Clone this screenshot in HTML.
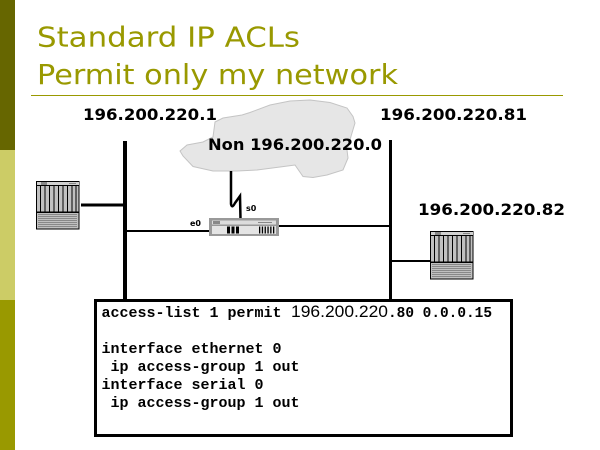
<!DOCTYPE html>
<html><head><meta charset="utf-8"><style>
html,body{margin:0;padding:0;background:#fff;}
svg{display:block;}
</style></head><body>
<svg width="600" height="450" viewBox="0 0 600 450" xmlns="http://www.w3.org/2000/svg">
<rect x="0" y="0" width="600" height="450" fill="#fff"/>
<!-- left bar -->
<rect x="0" y="0" width="15" height="150" fill="#666600"/>
<rect x="0" y="150" width="15" height="150" fill="#cccc66"/>
<rect x="0" y="300" width="15" height="150" fill="#999900"/>
<!-- title -->
<text x="37" y="46.5" font-family="DejaVu Sans, Liberation Sans, sans-serif" font-size="27.5" fill="#999900" textLength="263" lengthAdjust="spacingAndGlyphs">Standard IP ACLs</text>
<text x="37" y="84" font-family="DejaVu Sans, Liberation Sans, sans-serif" font-size="27.5" fill="#999900" textLength="361" lengthAdjust="spacingAndGlyphs">Permit only my network</text>
<line x1="31" y1="95.5" x2="563" y2="95.5" stroke="#999900" stroke-width="1"/>
<!-- cloud -->
<path d="M180,151 L187,145 L203,142 L213,137 L215,122 L223,118 L242,115 L250,112.5 L270,105 L290,101 L310,100 L330,102.5 L347,108 L353,116.5 L355,123 L352,133 L347,150 L348,158 L343,170 L327,175 L313,177.5 L303,176.5 L295,165 L280,167 L257,170 L237,171 L213,171 L193,166.5 L183,156 Z" fill="#e6e6e6" stroke="#c4c4c4" stroke-width="1"/>
<!-- labels -->
<text x="83" y="120" font-family="DejaVu Sans, Liberation Sans, sans-serif" font-weight="bold" font-size="16" fill="#000" textLength="134" lengthAdjust="spacingAndGlyphs">196.200.220.1</text>
<text x="380" y="120" font-family="DejaVu Sans, Liberation Sans, sans-serif" font-weight="bold" font-size="16" fill="#000" textLength="147" lengthAdjust="spacingAndGlyphs">196.200.220.81</text>
<text x="208" y="150" font-family="DejaVu Sans, Liberation Sans, sans-serif" font-weight="bold" font-size="16" fill="#000" textLength="174" lengthAdjust="spacingAndGlyphs">Non 196.200.220.0</text>
<text x="418" y="215" font-family="DejaVu Sans, Liberation Sans, sans-serif" font-weight="bold" font-size="16" fill="#000" textLength="147" lengthAdjust="spacingAndGlyphs">196.200.220.82</text>
<!-- vertical buses -->
<rect x="123" y="141" width="4" height="159" fill="#000"/>
<rect x="389" y="140" width="3" height="160" fill="#000"/>
<!-- connections -->
<rect x="81" y="203.5" width="43" height="3" fill="#000"/>
<rect x="125" y="230" width="84" height="2" fill="#000"/>
<rect x="279" y="225" width="111" height="2" fill="#000"/>
<rect x="390" y="260" width="45" height="2" fill="#000"/>
<!-- serial link -->
<path d="M231,171 L231,204 Q232,209 235,203 L240,196 L240.5,219" fill="none" stroke="#000" stroke-width="2.5"/>
<text x="246" y="211" font-family="DejaVu Sans, Liberation Sans, sans-serif" font-size="8" font-weight="bold" fill="#000">s0</text>
<text x="190" y="226" font-family="DejaVu Sans, Liberation Sans, sans-serif" font-size="8" font-weight="bold" fill="#000">e0</text>
<!-- router -->
<rect x="209" y="218" width="70" height="18" fill="#999"/>
<rect x="212" y="220.5" width="64" height="4" fill="#dcdcdc"/>
<rect x="213" y="221" width="7" height="3" fill="#888"/>
<rect x="258" y="222" width="14" height="1" fill="#888"/>
<rect x="212" y="226" width="64" height="8" fill="#e4e4e4"/>
<rect x="227" y="226.5" width="3" height="7" fill="#000"/>
<rect x="231.5" y="226.5" width="3" height="7" fill="#000"/>
<rect x="236" y="226.5" width="3" height="7" fill="#000"/>
<rect x="259" y="226.5" width="1.3" height="7" fill="#000"/>
<rect x="261.8" y="226.5" width="1.3" height="7" fill="#000"/>
<rect x="264.6" y="226.5" width="1.3" height="7" fill="#000"/>
<rect x="267.4" y="226.5" width="1.3" height="7" fill="#000"/>
<rect x="270.2" y="226.5" width="1.3" height="7" fill="#000"/>
<rect x="273" y="226.5" width="1.3" height="7" fill="#000"/>
<!-- left server -->
<g transform="translate(36,181)">
<rect x="0.5" y="0.5" width="42.5" height="47.5" fill="#c0c0c0" stroke="#000" stroke-width="1"/>
<rect x="1" y="1" width="42" height="3" fill="#d0d0d0"/>
<rect x="5" y="1" width="6" height="3" fill="#888"/>
<rect x="33" y="2" width="7" height="1" fill="#888"/>
<line x1="0" y1="4.5" x2="43" y2="4.5" stroke="#000" stroke-width="1"/>
<g stroke="#000" stroke-width="1">
<line x1="4.5" y1="4" x2="4.5" y2="31"/><line x1="9" y1="4" x2="9" y2="31"/><line x1="13.5" y1="4" x2="13.5" y2="31"/><line x1="18" y1="4" x2="18" y2="31"/><line x1="22.5" y1="4" x2="22.5" y2="31"/><line x1="27" y1="4" x2="27" y2="31"/><line x1="31.5" y1="4" x2="31.5" y2="31"/><line x1="36" y1="4" x2="36" y2="31"/><line x1="40" y1="4" x2="40" y2="31"/>
</g>
<rect x="0" y="30.5" width="43" height="1.5" fill="#000"/>
<g stroke="#888" stroke-width="1">
<line x1="2" y1="33.5" x2="41" y2="33.5"/><line x1="2" y1="35.5" x2="41" y2="35.5"/><line x1="2" y1="37.5" x2="41" y2="37.5"/><line x1="2" y1="39.5" x2="41" y2="39.5"/><line x1="2" y1="41.5" x2="41" y2="41.5"/><line x1="2" y1="43.5" x2="41" y2="43.5"/><line x1="2" y1="45.5" x2="41" y2="45.5"/>
</g>
</g>
<!-- right server -->
<g transform="translate(430,231)">
<rect x="0.5" y="0.5" width="42.5" height="47.5" fill="#c0c0c0" stroke="#000" stroke-width="1"/>
<rect x="1" y="1" width="42" height="3" fill="#d0d0d0"/>
<rect x="5" y="1" width="6" height="3" fill="#888"/>
<rect x="33" y="2" width="7" height="1" fill="#888"/>
<line x1="0" y1="4.5" x2="43" y2="4.5" stroke="#000" stroke-width="1"/>
<g stroke="#000" stroke-width="1">
<line x1="4.5" y1="4" x2="4.5" y2="31"/><line x1="9" y1="4" x2="9" y2="31"/><line x1="13.5" y1="4" x2="13.5" y2="31"/><line x1="18" y1="4" x2="18" y2="31"/><line x1="22.5" y1="4" x2="22.5" y2="31"/><line x1="27" y1="4" x2="27" y2="31"/><line x1="31.5" y1="4" x2="31.5" y2="31"/><line x1="36" y1="4" x2="36" y2="31"/><line x1="40" y1="4" x2="40" y2="31"/>
</g>
<rect x="0" y="30.5" width="43" height="1.5" fill="#000"/>
<g stroke="#888" stroke-width="1">
<line x1="2" y1="33.5" x2="41" y2="33.5"/><line x1="2" y1="35.5" x2="41" y2="35.5"/><line x1="2" y1="37.5" x2="41" y2="37.5"/><line x1="2" y1="39.5" x2="41" y2="39.5"/><line x1="2" y1="41.5" x2="41" y2="41.5"/><line x1="2" y1="43.5" x2="41" y2="43.5"/><line x1="2" y1="45.5" x2="41" y2="45.5"/>
</g>
</g>
<!-- config box -->
<rect x="95.5" y="300.5" width="416" height="135" fill="#fff" stroke="#000" stroke-width="3"/>
<g font-family="Liberation Mono, DejaVu Sans Mono, monospace" font-weight="bold" font-size="15" fill="#000">
<text x="101.5" y="317" textLength="180" lengthAdjust="spacingAndGlyphs">access-list 1 permit</text>
<text x="388" y="317" textLength="104" lengthAdjust="spacingAndGlyphs">.80 0.0.0.15</text>
<text x="101.5" y="353" textLength="180" lengthAdjust="spacingAndGlyphs">interface ethernet 0</text>
<text x="110.5" y="371" textLength="189" lengthAdjust="spacingAndGlyphs">ip access-group 1 out</text>
<text x="101.5" y="389" textLength="162" lengthAdjust="spacingAndGlyphs">interface serial 0</text>
<text x="110.5" y="407" textLength="189" lengthAdjust="spacingAndGlyphs">ip access-group 1 out</text>
</g>
<text x="291" y="317" font-family="Liberation Sans, sans-serif" font-size="17" fill="#000" textLength="97" lengthAdjust="spacingAndGlyphs">196.200.220</text>
</svg>
</body></html>
